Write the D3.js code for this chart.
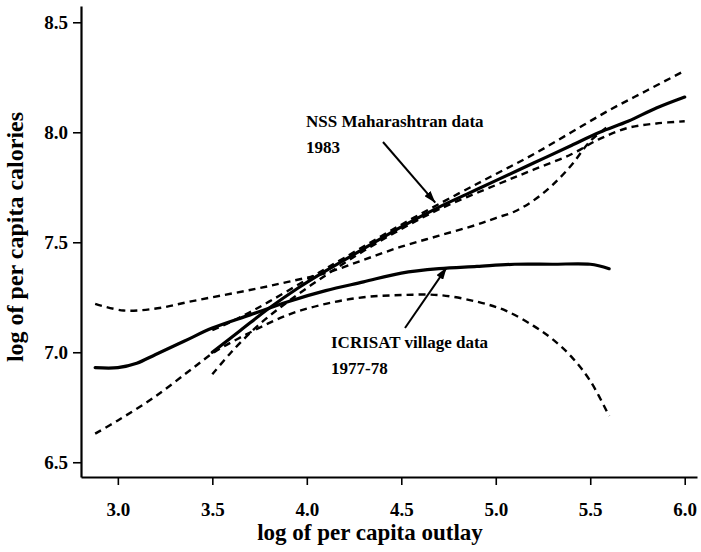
<!DOCTYPE html>
<html>
<head>
<meta charset="utf-8">
<script src="https://cdn.jsdelivr.net/npm/d3@7"></script>
<style>
  body { margin: 0; background: #fff; }
  svg { display: block; font-family: "Liberation Serif", "Times New Roman", serif; font-weight: bold; }
  .axis text { font-size: 19px; font-weight: bold; fill: #000; font-family: "Liberation Serif", "Times New Roman", serif; }
  .axis .domain { stroke: #000; stroke-width: 2.2px; }
  .axis .tick line { stroke: #000; stroke-width: 1.6px; }
</style>
</head>
<body>
<svg width="701" height="552"></svg>
<script>
// ticks
var xTicks = [3.0, 3.5, 4.0, 4.5, 5.0, 5.5, 6.0];
var yTicks = [6.5, 7.0, 7.5, 8.0, 8.5];

// ICRISAT village data 1977-78 : fit and bands
var icrisatX     = [2.88, 3.0, 3.1, 3.2, 3.35, 3.5, 3.7, 3.9, 4.1, 4.3, 4.5, 4.7, 4.9, 5.1, 5.3, 5.5, 5.6];
var icrisatFit   = [6.93, 6.93, 6.95, 6.99, 7.05, 7.11, 7.17, 7.23, 7.28, 7.32, 7.36, 7.38, 7.39, 7.40, 7.40, 7.40, 7.38];
var icrisatLoX   = [2.88, 3.0, 3.2, 3.4, 3.51, 3.7, 3.9, 4.1, 4.3, 4.5, 4.7, 4.9, 5.05, 5.2, 5.3, 5.4, 5.5, 5.6];
var icrisatLo    = [6.63, 6.69, 6.80, 6.93, 7.0, 7.09, 7.17, 7.22, 7.25, 7.26, 7.26, 7.23, 7.19, 7.12, 7.06, 6.98, 6.87, 6.71];
var icrisatHiX   = [2.88, 3.03, 3.21, 3.38, 3.56, 3.74, 3.9, 4.1, 4.3, 4.5, 4.7, 4.9, 5.0, 5.1, 5.2, 5.3, 5.4, 5.5, 5.6];
var icrisatHi    = [7.22, 7.19, 7.20, 7.23, 7.26, 7.29, 7.32, 7.36, 7.42, 7.48, 7.53, 7.58, 7.61, 7.64, 7.69, 7.76, 7.85, 7.96, 8.03];

// NSS Maharashtran data 1983 : fit and bands
var nssX   = [3.5, 3.65, 3.8, 3.95, 4.1, 4.3, 4.5, 4.7, 4.85, 5.0, 5.2, 5.4, 5.55, 5.7, 5.85, 6.0];
var nssFit = [7.00, 7.10, 7.20, 7.29, 7.37, 7.47, 7.57, 7.66, 7.72, 7.78, 7.86, 7.94, 8.00, 8.05, 8.11, 8.16];
var nssHiX = [3.5, 3.65, 3.8, 4.0, 4.2, 4.5, 4.8, 5.0, 5.2, 5.4, 5.6, 5.8, 6.0];
var nssHi  = [7.10, 7.16, 7.23, 7.33, 7.43, 7.58, 7.72, 7.81, 7.90, 8.00, 8.10, 8.19, 8.28];
var nssLoX = [3.5, 3.6, 3.74, 3.9, 4.1, 4.3, 4.5, 4.7, 5.0, 5.2, 5.4, 5.55, 5.7, 5.85, 6.0];
var nssLo  = [6.90, 7.00, 7.12, 7.23, 7.35, 7.46, 7.56, 7.65, 7.76, 7.83, 7.90, 7.97, 8.02, 8.04, 8.05];

var svg = d3.select("svg");

var x = d3.scaleLinear().domain([2.805, 6.065]).range([81, 697]);
var y = d3.scaleLinear().domain([6.433, 8.574]).range([477, 6]);

function pts(xs, ys) {
    return xs.map(function (v, i) { return [v, ys[i]]; });
}

var line = d3.line()
    .x(function (d) { return x(d[0]); })
    .y(function (d) { return y(d[1]); })
    .curve(d3.curveCatmullRom.alpha(0.5));

// assen
svg.append("g")
    .attr("class", "axis")
    .attr("transform", "translate(0,477)")
    .call(d3.axisBottom(x).tickValues(xTicks).tickFormat(d3.format(".1f"))
        .tickSize(8).tickSizeOuter(0).tickPadding(18));

svg.append("g")
    .attr("class", "axis")
    .attr("transform", "translate(81,0)")
    .call(d3.axisLeft(y).tickValues(yTicks).tickFormat(d3.format(".1f"))
        .tickSize(8).tickSizeOuter(0).tickPadding(5));

svg.selectAll(".axis").attr("font-family", null).attr("font-size", null);

svg.append("text")
    .attr("x", 370).attr("y", 540)
    .attr("text-anchor", "middle")
    .style("font-size", "23px")
    .text("log of per capita outlay");

svg.append("text")
    .attr("transform", "translate(23,237) rotate(-90)")
    .attr("text-anchor", "middle")
    .style("font-size", "24px")
    .text("log of per capita calories");

// curves
var dashed = [
    pts(icrisatLoX, icrisatLo), pts(icrisatHiX, icrisatHi),
    pts(nssHiX, nssHi), pts(nssLoX, nssLo)
];
var solid = [pts(icrisatX, icrisatFit), pts(nssX, nssFit)];

svg.selectAll(".band")
    .data(dashed)
    .enter().append("path")
    .attr("class", "band")
    .attr("d", line)
    .attr("fill", "none")
    .attr("stroke", "#000")
    .attr("stroke-width", 2.4)
    .attr("stroke-dasharray", "7,5");

svg.selectAll(".fit")
    .data(solid)
    .enter().append("path")
    .attr("class", "fit")
    .attr("d", line)
    .attr("fill", "none")
    .attr("stroke", "#000")
    .attr("stroke-width", 3.2)
    .attr("stroke-linecap", "round");

// labels met pijl
svg.append("defs").append("marker")
    .attr("id", "pijl")
    .attr("viewBox", "0 0 12 8")
    .attr("refX", 12).attr("refY", 4)
    .attr("markerWidth", 12).attr("markerHeight", 8)
    .attr("markerUnits", "userSpaceOnUse")
    .attr("orient", "auto")
    .append("path")
    .attr("d", "M0,0 L12,4 L0,8 Z")
    .attr("fill", "#000");

var notes = [
    { lines: ["NSS Maharashtran data", "1983"], tx: 306, ty: 127, from: [383, 142], to: [4.68, 7.68] },
    { lines: ["ICRISAT village data", "1977-78"], tx: 331, ty: 348, from: [405, 328], to: [4.74, 7.385] }
];

notes.forEach(function (n) {
    var t = svg.append("text")
        .attr("x", n.tx).attr("y", n.ty)
        .style("font-size", "17px");
    n.lines.forEach(function (s, i) {
        t.append("tspan").attr("x", n.tx).attr("dy", i ? 26 : 0).text(s);
    });
    svg.append("line")
        .attr("x1", n.from[0]).attr("y1", n.from[1])
        .attr("x2", x(n.to[0])).attr("y2", y(n.to[1]))
        .attr("stroke", "#000")
        .attr("stroke-width", 2)
        .attr("marker-end", "url(#pijl)");
});
</script>
</body>
</html>
